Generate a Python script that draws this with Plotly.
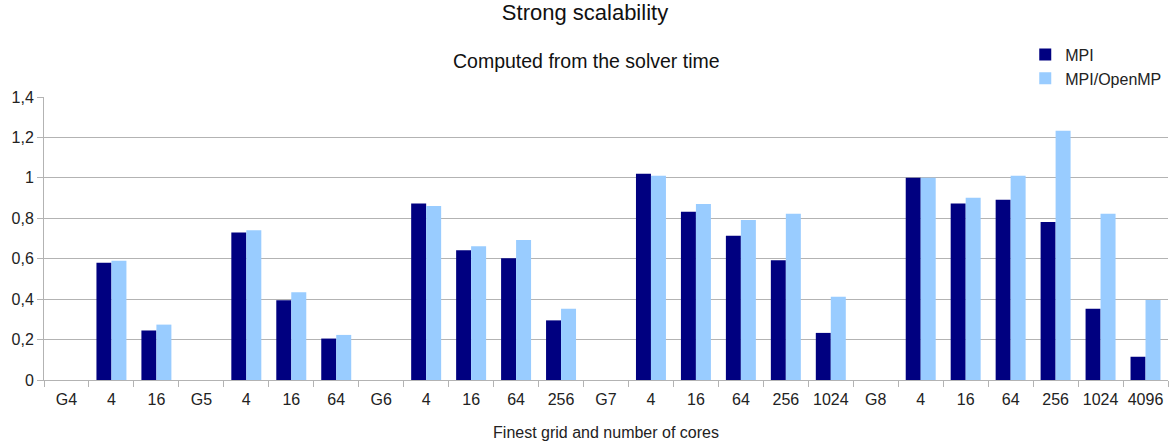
import plotly.graph_objects as go

labels = ["G4", "4", "16", "G5", "4", "16", "64", "G6", "4", "16", "64", "256",
          "G7", "4", "16", "64", "256", "1024", "G8", "4", "16", "64", "256", "1024", "4096"]
mpi = [None, 0.58, 0.245, None, 0.73, 0.395, 0.205, None, 0.873, 0.642, 0.602, 0.295,
       None, 1.02, 0.832, 0.713, 0.593, 0.233, None, 1.0, 0.873, 0.892, 0.782, 0.353, 0.115]
hybrid = [None, 0.59, 0.274, None, 0.741, 0.434, 0.223, None, 0.861, 0.662, 0.692, 0.353,
          None, 1.01, 0.871, 0.792, 0.822, 0.412, None, 1.0, 0.902, 1.01, 1.233, 0.822, 0.396]

x = list(range(len(labels)))
font = "Liberation Sans, Arial, sans-serif"

fig = go.Figure()
fig.add_trace(go.Bar(x=x, y=mpi, name="MPI", marker_color="#000080", marker_line_width=0))
fig.add_trace(go.Bar(x=x, y=hybrid, name="MPI/OpenMP", marker_color="#99ccff", marker_line_width=0))
# invisible trace on second axis for boundary tick marks
fig.add_trace(go.Scatter(x=[-0.5, 24.5], y=[0, 0], xaxis="x2", mode="lines",
                         line=dict(width=0), showlegend=False, hoverinfo="skip"))

fig.update_layout(
    width=1170, height=448,
    margin=dict(l=44, r=2, t=97, b=68),
    paper_bgcolor="white", plot_bgcolor="white",
    separators=", ",
    barmode="group", bargap=0.333, bargroupgap=0,
    font=dict(family=font, color="#333333"),
    title=dict(text="Strong scalability", x=0.5, xanchor="center", y=0.972, yanchor="middle",
               font=dict(size=22, family=font, color="#111111")),
    xaxis=dict(range=[-0.5, 24.5], tickvals=x, ticktext=labels, ticks="",
               showgrid=False, zeroline=False, showline=True, linecolor="#b3b3b3",
               ticklabelstandoff=5,
               tickfont=dict(family=font, size=16, color="#222222"),
               title=dict(text="Finest grid and number of cores", standoff=19,
                          font=dict(family=font, size=16, color="#222222"))),
    xaxis2=dict(overlaying="x", range=[-0.5, 24.5], tickvals=[i - 0.5 for i in range(26)],
                ticks="outside", ticklen=6, tickcolor="#b3b3b3", showticklabels=False,
                showgrid=False, zeroline=False, anchor="y", side="bottom"),
    yaxis=dict(range=[0, 1.4], dtick=0.2, ticks="outside", ticklen=6, tickcolor="#b3b3b3",
               showgrid=True, gridcolor="#b3b3b3", gridwidth=1, zeroline=False,
               showline=True, linecolor="#b3b3b3",
               tickfont=dict(size=16, family=font, color="#222222")),
    legend=dict(x=0.873, y=1.21, xanchor="left", yanchor="top", bgcolor="rgba(0,0,0,0)",
                font=dict(size=16, family=font, color="#222222"), tracegroupgap=0),
    annotations=[dict(text="Computed from the solver time", xref="paper", yref="paper",
                      x=0.483, y=1.126, xanchor="center", yanchor="middle", showarrow=False,
                      font=dict(size=19.5, family=font, color="#111111"))],
)

fig.write_html("out.html", config={"displayModeBar": False},
               post_script="document.body.style.margin='0';")
